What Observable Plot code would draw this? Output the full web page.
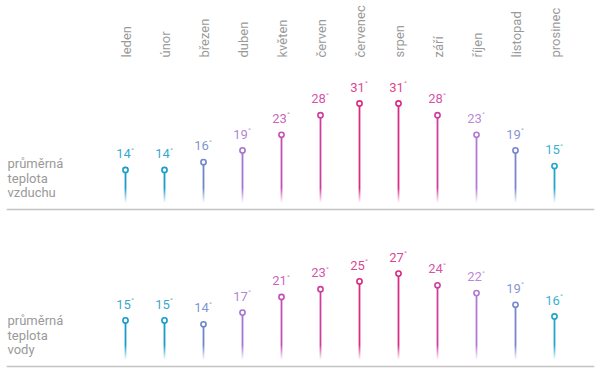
<!DOCTYPE html>
<html>
<head>
<meta charset="utf-8">
<script src="https://cdn.jsdelivr.net/npm/d3@7"></script>
<script src="https://cdn.jsdelivr.net/npm/@observablehq/plot@0.6"></script>
<style>
  html, body { margin: 0; padding: 0; background: #fff; }
  #chart svg { display: block; }
</style>
</head>
<body>
<div id="chart"></div>
<script>
const months = ["leden","únor","březen","duben","květen","červen","červenec","srpen","září","říjen","listopad","prosinec"];
const airTemps = [14,14,16,19,23,28,31,31,28,23,19,15];
const waterTemps = [15,15,14,17,21,23,25,27,24,22,19,16];
const monthColors = ["#1a9cc7","#1a9cc7","#6d88c9","#a774d0","#c650b2","#cf3e9c","#d82c83","#d82c83","#cf3e9c","#b07ad4","#7886d0","#22a5c9"];
const airLabel = "průměrná\nteplota\nvzduchu";
const waterLabel = "průměrná\nteplota\nvody";

const W = 600;

function panel({values, label, height, marginTop, marginBottom, yDomain, yRange, showMonths, id}) {
  const data = months.map((m, i) => ({month: m, value: values[i], color: monthColors[i]}));
  const marks = [
    Plot.frame({anchor: "bottom", stroke: "#c4c4c4", strokeWidth: 1.5, dy: 6}),
    Plot.ruleX(data, {x: "month", y1: "value", stroke: "color", strokeWidth: 1.8}),
    Plot.dot(data, {x: "month", y: "value", r: 2.6, stroke: "color", fill: "white", strokeWidth: 1.6}),
    Plot.text(data, {x: "month", y: "value", text: d => String(d.value), fill: "color", fillOpacity: 0.9, dy: -16, dx: -2, fontSize: 13}),
    Plot.text(data, {x: "month", y: "value", text: () => "°", fill: "color", fillOpacity: 0.9, dy: -20, dx: 5.5, textAnchor: "start", fontSize: 8}),
    Plot.text([label], {frameAnchor: "bottom-left", textAnchor: "start", lineAnchor: "middle", dy: -25.5, fill: "#9a9a9a", fontSize: 13, lineHeight: 1.12})
  ];
  if (showMonths) {
    marks.push(Plot.text(months, {x: d => d, frameAnchor: "top", rotate: -90, textAnchor: "start", dx: -4, fill: "#9a9a9a", fontSize: 13}));
  }
  const svg = Plot.plot({
    width: W,
    height,
    marginTop,
    marginBottom,
    marginLeft: 7,
    marginRight: 7,
    style: {fontFamily: "Roboto, sans-serif", background: "#fff"},
    x: {type: "point", domain: months, range: [124, 554], padding: 0, align: 0.5, axis: null},
    y: {domain: yDomain, range: yRange, axis: null},
    color: {type: "identity"},
    marks
  });
  const fb = height - marginBottom;
  const s = d3.select(svg);
  const defs = s.insert("defs", ":first-child");
  const g = defs.append("linearGradient").attr("id", id + "g")
    .attr("gradientUnits", "userSpaceOnUse")
    .attr("x1", 0).attr("x2", 0).attr("y1", fb - 15).attr("y2", fb);
  g.append("stop").attr("offset", 0).attr("stop-color", "white");
  g.append("stop").attr("offset", 1).attr("stop-color", "black");
  defs.append("mask").attr("id", id).attr("maskUnits", "userSpaceOnUse")
    .attr("x", 0).attr("y", 0).attr("width", W).attr("height", height)
    .append("rect").attr("x", 0).attr("y", 0).attr("width", W).attr("height", height)
    .attr("fill", `url(#${id}g)`);
  s.select('g[aria-label="rule"]').attr("mask", `url(#${id})`);
  return svg;
}

const chart = document.getElementById("chart");
chart.appendChild(panel({
  values: airTemps, label: airLabel, height: 212, marginTop: 57, marginBottom: 9,
  yDomain: [0, 31], yRange: [224.2, 103.0], showMonths: true, id: "fadeAir"
}));
chart.appendChild(panel({
  values: waterTemps, label: waterLabel, height: 164, marginTop: 0, marginBottom: 16,
  yDomain: [0, 27], yRange: [166.4, 61.1], showMonths: false, id: "fadeWater"
}));
</script>
</body>
</html>
